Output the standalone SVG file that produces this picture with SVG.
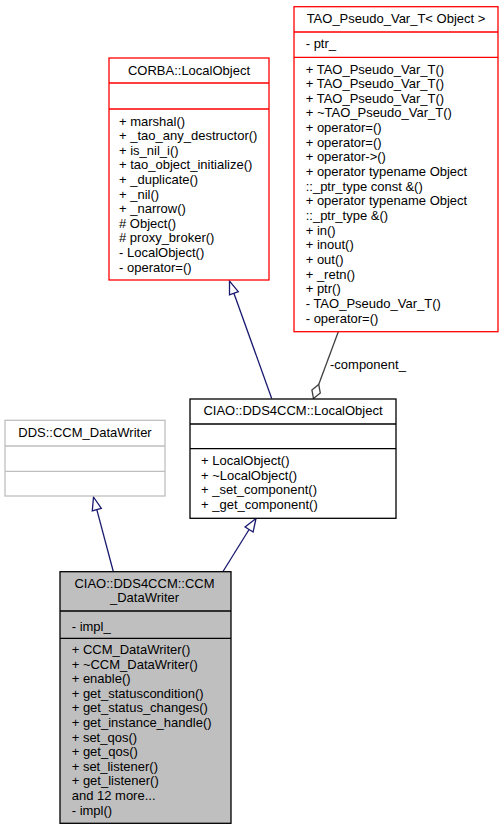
<svg xmlns="http://www.w3.org/2000/svg" width="503" height="829" viewBox="0 0 503 829">
<style>
text{font-family:"Liberation Sans",Arial,Helvetica,sans-serif;font-size:13px;fill:#000}
.t{text-anchor:middle}
.box{fill:#fff;stroke-width:1.3}
.red{stroke:#ff0000}
.gray{stroke:#bfbfbf}
.blk{stroke:#000}
.cur{fill:#bfbfbf;stroke:#000;stroke-width:1.3}
.sep{stroke-width:1.3;fill:none}
.inh{stroke:#191970;stroke-width:1.3;fill:none}
.tri{stroke:#191970;stroke-width:1.3;fill:#fff}
.agg{stroke:#404040;stroke-width:1.3;fill:none}
.dia{stroke:#404040;stroke-width:1.3;fill:#fff}
</style>
<rect width="503" height="829" fill="#fff"/>
<g id="edges">
  <path class="inh" d="M233.9,293.2 L271.7,398.5"/>
  <polygon class="tri" points="229.5,281 229.5,294.8 238.3,291.6"/>
  <path class="inh" d="M96.8,509.6 L113.3,571.5"/>
  <polygon class="tri" points="93.5,497 92.3,510.8 101.3,508.4"/>
  <path class="inh" d="M249.1,529.5 L223,571.5"/>
  <polygon class="tri" points="256,518.5 245.1,527 253.1,532"/>
  <path class="agg" d="M318.7,384.4 L338.3,331.7"/>
  <polygon class="dia" points="313.5,398.5 320.3,393.1 318.7,384.4 311.9,389.9"/>
  <text x="330" y="369">-component_</text>
</g>
<g id="corba_localobject">
  <rect class="box red" x="109" y="58" width="160" height="222"/>
  <path class="sep red" d="M109,83 H269 M109,109 H269"/>
  <text class="t" x="189" y="74.5">CORBA::LocalObject</text>
  <text x="119" y="125.5">+ marshal()</text>
  <text x="119" y="140.1">+ _tao_any_destructor()</text>
  <text x="119" y="154.7">+ is_nil_i()</text>
  <text x="119" y="169.3">+ tao_object_initialize()</text>
  <text x="119" y="183.9">+ _duplicate()</text>
  <text x="119" y="198.5">+ _nil()</text>
  <text x="119" y="213.1">+ _narrow()</text>
  <text x="119" y="227.7"># Object()</text>
  <text x="119" y="242.3"># proxy_broker()</text>
  <text x="119" y="256.9">- LocalObject()</text>
  <text x="119" y="271.5">- operator=()</text>
</g>
<g id="tao_pseudo_var_t">
  <rect class="box red" x="294" y="6.7" width="204" height="325"/>
  <path class="sep red" d="M294,32 H498 M294,57.3 H498"/>
  <text class="t" x="396" y="23">TAO_Pseudo_Var_T&lt; Object &gt;</text>
  <text x="305.7" y="48">- ptr_</text>
  <text x="305.7" y="73.5">+ TAO_Pseudo_Var_T()</text>
  <text x="305.7" y="88.15">+ TAO_Pseudo_Var_T()</text>
  <text x="305.7" y="102.8">+ TAO_Pseudo_Var_T()</text>
  <text x="305.7" y="117.45">+ ~TAO_Pseudo_Var_T()</text>
  <text x="305.7" y="132.1">+ operator=()</text>
  <text x="305.7" y="146.75">+ operator=()</text>
  <text x="305.7" y="161.4">+ operator-&gt;()</text>
  <text x="305.7" y="176.05">+ operator typename Object</text>
  <text x="305.7" y="190.7">::_ptr_type const &amp;()</text>
  <text x="305.7" y="205.35">+ operator typename Object</text>
  <text x="305.7" y="220">::_ptr_type &amp;()</text>
  <text x="305.7" y="234.65">+ in()</text>
  <text x="305.7" y="249.3">+ inout()</text>
  <text x="305.7" y="263.95">+ out()</text>
  <text x="305.7" y="278.6">+ _retn()</text>
  <text x="305.7" y="293.25">+ ptr()</text>
  <text x="305.7" y="307.9">- TAO_Pseudo_Var_T()</text>
  <text x="305.7" y="322.55">- operator=()</text>
</g>
<g id="dds_ccm_datawriter">
  <rect class="box gray" x="5" y="420.3" width="160" height="75.7"/>
  <path class="sep gray" d="M5,446 H165 M5,471.3 H165"/>
  <text class="t" x="85" y="437">DDS::CCM_DataWriter</text>
</g>
<g id="ciao_dds4ccm_localobject">
  <rect class="box blk" x="190" y="399" width="206" height="119.3"/>
  <path class="sep blk" d="M190,424 H396 M190,448.7 H396"/>
  <text class="t" x="293" y="415">CIAO::DDS4CCM::LocalObject</text>
  <text x="201" y="465.2">+ LocalObject()</text>
  <text x="201" y="479.8">+ ~LocalObject()</text>
  <text x="201" y="494.4">+ _set_component()</text>
  <text x="201" y="509">+ _get_component()</text>
</g>
<g id="ciao_dds4ccm_ccm_datawriter">
  <rect class="cur" x="60" y="571.7" width="171" height="251.6"/>
  <path class="sep blk" d="M60,611 H231 M60,638.3 H231"/>
  <text class="t" x="144.5" y="587.5">CIAO::DDS4CCM::CCM</text>
  <text class="t" x="144.5" y="602">_DataWriter</text>
  <text x="71.7" y="630.5">- impl_</text>
  <text x="71.7" y="654">+ CCM_DataWriter()</text>
  <text x="71.7" y="668.6">+ ~CCM_DataWriter()</text>
  <text x="71.7" y="683.2">+ enable()</text>
  <text x="71.7" y="697.8">+ get_statuscondition()</text>
  <text x="71.7" y="712.4">+ get_status_changes()</text>
  <text x="71.7" y="727">+ get_instance_handle()</text>
  <text x="71.7" y="741.6">+ set_qos()</text>
  <text x="71.7" y="756.2">+ get_qos()</text>
  <text x="71.7" y="770.8">+ set_listener()</text>
  <text x="71.7" y="785.4">+ get_listener()</text>
  <text x="71.7" y="800">and 12 more...</text>
  <text x="71.7" y="814.6">- impl()</text>
</g>
</svg>
